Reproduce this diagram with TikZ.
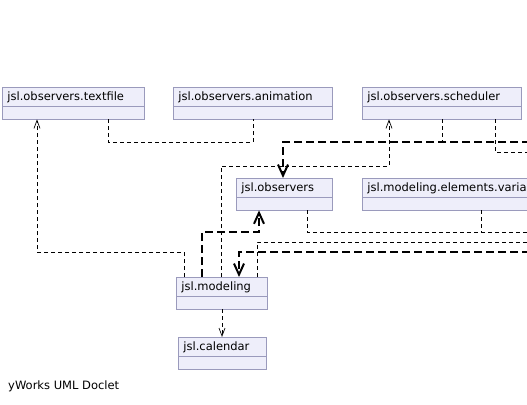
\documentclass[tikz,border=0pt]{standalone}
\usepackage{fontspec}
\setmainfont{DejaVu Sans}
\usetikzlibrary{shapes.multipart, arrows.meta}
\definecolor{pkgfill}{HTML}{EEEEFA}
\definecolor{pkgdraw}{HTML}{9A9ABC}
\newcommand{\pkgstrut}{\rule[-5pt]{0pt}{18pt}}
\newcommand{\pkgempty}{\rule{0pt}{12pt}}

\begin{document}
\begin{tikzpicture}[x=1pt, y=-1pt]
        \tikzset{pkg/.style={rectangle split, rectangle split parts=2, draw=pkgdraw, fill=pkgfill, line width=0.8pt, anchor=north west, inner xsep=5pt, inner ysep=0pt, text width=#1, align=left, font=\fontsize{11.5}{13}\selectfont}}
        \tikzset{dep/.style={line width=0.7pt, dash pattern=on 4pt off 3pt}}
        \tikzset{depto/.style={dep, -{Straight Barb[length=8pt, width=6pt]}}}
        \tikzset{bigdepto/.style={line width=2pt, dash pattern=on 8pt off 4pt, -{Straight Barb[length=11pt, width=10pt]}}}

        \useasboundingbox (0,0) rectangle (527,404);
        \clip (0,0) rectangle (527,404);

        \node[pkg=132pt] (textfile) at (2,87) {\pkgstrut jsl.observers.textfile \nodepart{two}\pkgempty};
        \node[pkg=149pt] (animation) at (173,87) {\pkgstrut jsl.observers.animation \nodepart{two}\pkgempty};
        \node[pkg=149pt] (scheduler) at (362,87) {\pkgstrut jsl.observers.scheduler \nodepart{two}\pkgempty};
        \node[pkg=86pt] (observers) at (236,178) {\pkgstrut jsl.observers \nodepart{two}\pkgempty};
        \node[pkg=200pt] (variables) at (362,178) {\pkgstrut jsl.modeling.elements.variables \nodepart{two}\pkgempty};
        \node[pkg=81pt] (modeling) at (176,277) {\pkgstrut jsl.modeling \nodepart{two}\pkgempty};
        \node[pkg=78pt] (calendar) at (178,337) {\pkgstrut jsl.calendar \nodepart{two}\pkgempty};

        \node[anchor=west, inner sep=0pt, font=\fontsize{11.5}{13}\selectfont] (doclet) at (8,386) {yWorks UML Doclet};

        \coordinate (rI) at (530,142);
        \coordinate (rK) at (530,152);
        \coordinate (rE) at (530,232);
        \coordinate (rG) at (530,242);
        \coordinate (rH) at (530,252);

        \draw[dep] (textfile.south -| 108,0) -- (108,0 |- rI) -| (animation.south -| 253,0);
        \draw[depto] (modeling.north -| 184,0) -- ++(0,-25) -| (textfile.south -| 37,0);
        \draw[depto] (modeling.north -| 221,0) -- ++(0,-111) -| (scheduler.south -| 389,0);
        \draw[bigdepto] (modeling.north -| 202,0) -- (202,0 |- rE) -| (observers.south -| 259,0);
        \draw[dep] (observers.south -| 307,0) |- (rE);
        \draw[dep] (variables.south -| 481,0) -- (481,0 |- rE);
        \draw[dep] (modeling.north -| 257,0) |- (rG);
        \draw[bigdepto] (rH) -| (modeling.north -| 239,0);
        \draw[bigdepto] (rI) -| (observers.north -| 283,0);
        \draw[dep] (scheduler.south -| 442,0) -- (442,0 |- rI);
        \draw[dep] (scheduler.south -| 495,0) |- (rK);
        \draw[depto] (modeling.south -| 222,0) -- (calendar.north -| 222,0);

    \end{tikzpicture}
\end{document}
